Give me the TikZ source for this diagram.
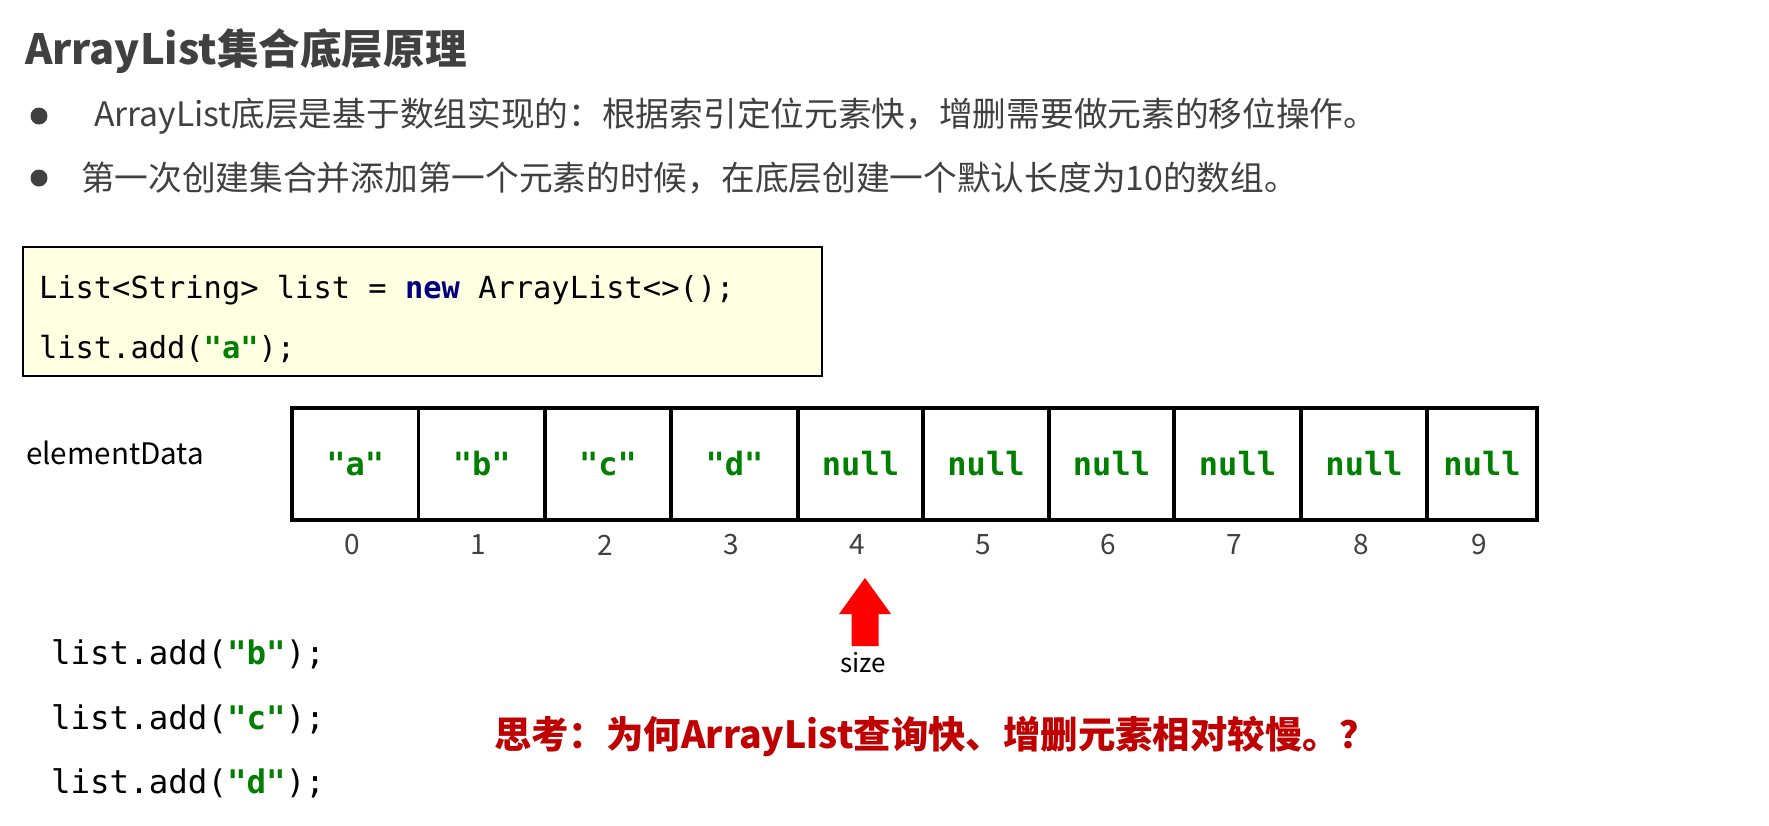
\documentclass[tikz,border=0pt]{standalone}
\usepackage{fontspec}
\setmainfont{Noto Sans CJK SC}
\setmonofont{DejaVu Sans Mono}
\definecolor{txtgrey}{HTML}{404040}
\definecolor{codegreen}{HTML}{008000}
\definecolor{codenavy}{HTML}{000080}
\definecolor{boxfill}{HTML}{FFFFE1}
\definecolor{darkred}{HTML}{C00000}
\newcommand{\fsz}[1]{\fontsize{#1}{#1}\selectfont}
\newcommand{\str}[1]{\textcolor{codegreen}{\bfseries"#1"}}
\begin{document}
\begin{tikzpicture}[x=1pt,y=-1pt,
  every node/.style={inner sep=0pt, outer sep=0pt},
  bullettxt/.style={anchor=west, text=txtgrey, font=\fsz{33.7}},
  bulletdot/.style={circle, fill=txtgrey, minimum size=17pt},
  codeline/.style={anchor=west, text=black, font=\fsz{30.4}\ttfamily},
  codeline2/.style={anchor=west, text=black, font=\fsz{32.5}\ttfamily},
  cell/.style={draw=black, line width=3.5pt, minimum height=112pt, font=\fsz{32}\ttfamily\bfseries, text=codegreen},
  idx/.style={text=txtgrey, font=\fsz{28}}
]
\useasboundingbox[fill=white] (0,0) rectangle (1769,825);

\node[anchor=west, text=txtgrey, font=\fsz{41.6}\bfseries] (title) at (25,51) {ArrayList集合底层原理};

\node[bulletdot] (b1) at (39,116) {};
\node[bullettxt] (t1) at (94,116) {ArrayList底层是基于数组实现的：根据索引定位元素快，增删需要做元素的移位操作。};
\node[bulletdot] (b2) at (39,178) {};
\node[bullettxt] (t2) at (81,178) {第一次创建集合并添加第一个元素的时候，在底层创建一个默认长度为10的数组。};

\node[draw=black, line width=2pt, fill=boxfill, minimum width=799pt, minimum height=129pt] (codebox) at (422.5,311.5) {};
\node[codeline] (cl1) at (39,290) {List<String> list = \textcolor{codenavy}{\bfseries new} ArrayList<>();};
\node[codeline] (cl2) at (39,349) {list.add(\str{a});};

\node[anchor=west, text=black, font=\fsz{29.6}] (ed) at (26,453) {elementData};

\foreach \i/\l/\r/\t in {0/292/418.5/"a",1/418.5/545/"b",2/545/671/"c",3/671/798/"d",4/798/923/null,5/923/1049/null,6/1049/1174/null,7/1174/1301/null,8/1301/1427/null,9/1427/1537/null}{
  \pgfmathsetmacro{\cx}{(\l+\r)/2}
  \pgfmathsetmacro{\w}{\r-\l}
  \node[cell, minimum width=\w pt] (c\i) at (\cx,464) {\t};
  \node[idx] (i\i) at (\cx-3,545) {\i};
}

\coordinate (arrbase) at (865,646);
\begin{scope}[shift={(arrbase)}]
  \fill[red] (-13.5,0) -- (-13.5,-32) -- (-26,-32) -- (0,-68) -- (26,-32) -- (13.5,-32) -- (13.5,0) -- cycle;
\end{scope}
\node[text=black, font=\fsz{26}] (size) at (863,663) {size};

\node[codeline2] (cl3) at (51,654) {list.add(\str{b});};
\node[codeline2] (cl4) at (51,719) {list.add(\str{c});};
\node[codeline2] (cl5) at (51,783) {list.add(\str{d});};

\node[anchor=west, text=darkred, font=\fsz{37.4}\bfseries] (q) at (494,736) {思考：为何ArrayList查询快、增删元素相对较慢。？};
\end{tikzpicture}
\end{document}
